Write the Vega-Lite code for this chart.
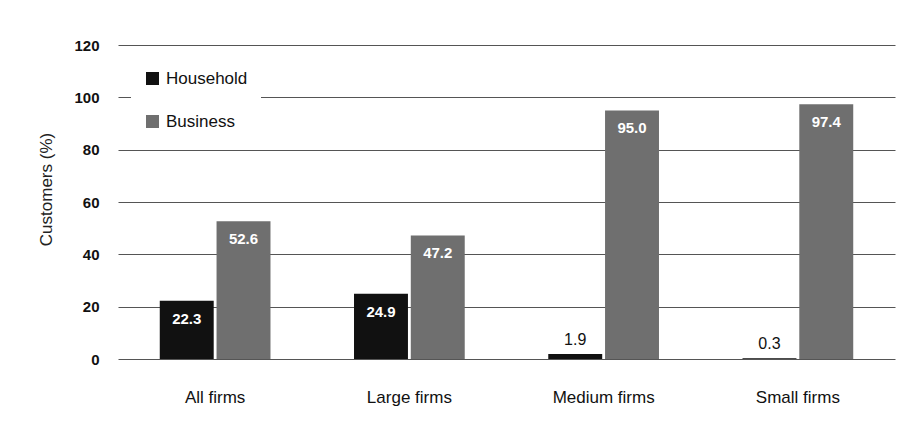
{
  "$schema": "https://vega.github.io/schema/vega-lite/v6.json",
  "autosize": "none",
  "width": 777,
  "height": 314,
  "padding": {"left": 118, "top": 45, "right": 22, "bottom": 75},
  "background": "white",
  "config": {
    "view": {"stroke": null},
    "font": "Liberation Sans",
    "axis": {"labelFont": "Liberation Sans", "titleFont": "Liberation Sans"}
  },
  "data": {
    "values": [
      {"firm": "All firms", "type": "Household", "value": 22.3},
      {"firm": "All firms", "type": "Business", "value": 52.6},
      {"firm": "Large firms", "type": "Household", "value": 24.9},
      {"firm": "Large firms", "type": "Business", "value": 47.2},
      {"firm": "Medium firms", "type": "Household", "value": 1.9},
      {"firm": "Medium firms", "type": "Business", "value": 95.0},
      {"firm": "Small firms", "type": "Household", "value": 0.3},
      {"firm": "Small firms", "type": "Business", "value": 97.4}
    ]
  },
  "encoding": {
    "x": {
      "field": "firm", "type": "nominal", "sort": null,
      "scale": {"paddingInner": 0.43, "paddingOuter": 0.215},
      "axis": {"title": null, "labelAngle": 0, "domain": false, "ticks": false, "labelPadding": 38, "labelFontSize": 17, "labelColor": "#111", "labelBaseline": "middle"}
    },
    "xOffset": {"field": "type", "type": "nominal", "sort": ["Household", "Business"], "scale": {"paddingInner": 0.05}},
    "y": {
      "field": "value", "type": "quantitative",
      "scale": {"domain": [0, 120]},
      "axis": {"title": "Customers (%)", "values": [0, 20, 40, 60, 80, 100, 120], "domain": false, "ticks": false, "labelPadding": 19, "labelFontSize": 15, "labelFontWeight": "bold", "labelColor": "#111", "gridColor": "#555", "gridOpacity": 1, "gridWidth": 1, "titleFontSize": 17, "titleFontWeight": "normal", "titleColor": "#222", "titleX": -72, "titleY": 144, "titleAngle": -90, "titleAlign": "center", "titleBaseline": "middle"}
    }
  },
  "layer": [
    {
      "mark": {"type": "bar"},
      "encoding": {
        "color": {
          "field": "type", "type": "nominal", "sort": ["Household", "Business"],
          "scale": {"domain": ["Household", "Business"], "range": ["#111111", "#6f6f6f"]},
          "legend": {"title": null, "orient": "none", "legendX": 13, "legendY": 12, "padding": 13, "fillColor": "white", "strokeColor": null, "symbolType": "square", "symbolSize": 169, "symbolStrokeWidth": 0, "labelFontSize": 17, "labelColor": "#111", "rowPadding": 25, "labelOffset": 5, "labelFont": "Liberation Sans"}
        }
      }
    },
    {
      "transform": [{"filter": "datum.value >= 5"}],
      "mark": {"type": "text", "baseline": "middle", "dy": 18, "color": "white", "fontSize": 15, "fontWeight": "bold"},
      "encoding": {"text": {"field": "value", "type": "quantitative", "format": ".1f"}}
    },
    {
      "transform": [{"filter": "datum.value < 5"}],
      "mark": {"type": "text", "baseline": "bottom", "dy": -6, "color": "#111", "fontSize": 16},
      "encoding": {"text": {"field": "value", "type": "quantitative", "format": ".1f"}}
    }
  ]
}
